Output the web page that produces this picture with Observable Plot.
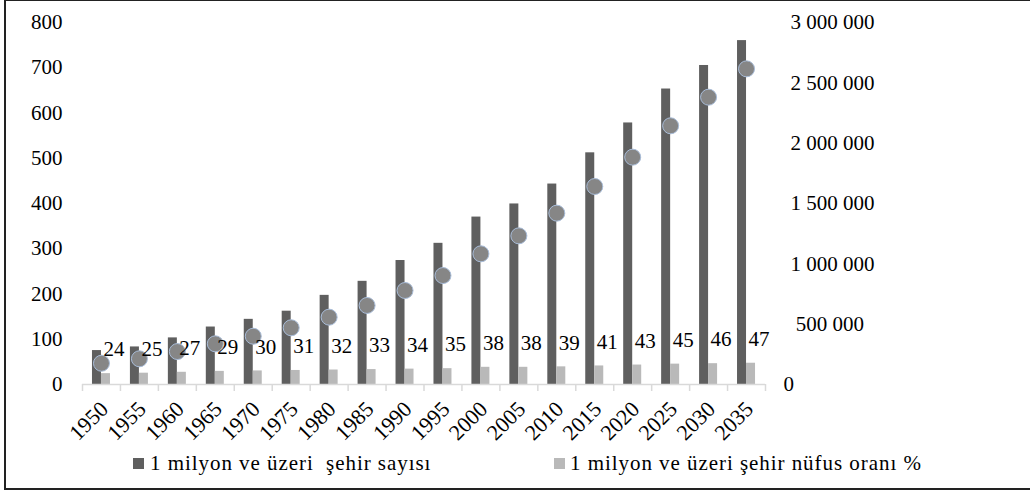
<!DOCTYPE html>
<html>
<head>
<meta charset="utf-8">
<script src="https://cdn.jsdelivr.net/npm/d3@7"></script>
<script src="https://cdn.jsdelivr.net/npm/@observablehq/plot@0.6"></script>
<style>
  html, body { margin: 0; padding: 0; background: #fff; }
  #wrap { position: relative; width: 1030px; height: 494px; overflow: hidden; font-family: "Liberation Serif", serif; }
  #wrap svg { position: absolute; left: 0; top: 0; }
  #frame { position: absolute; left: 4px; top: -1px; width: 1040px; height: 491px; border: 2px solid #222; box-sizing: border-box; }
  .lg-sw { position: absolute; width: 11px; height: 11px; top: 458px; }
  .lg-tx { position: absolute; top: 451px; font-size: 21px; line-height: 24px; letter-spacing: 0.95px; color: #000; white-space: pre; }
</style>
</head>
<body>
<div id="wrap">
  <div id="frame"></div>
</div>
<script>
// ---- data ----
const years = ["1950","1955","1960","1965","1970","1975","1980","1985","1990","1995","2000","2005","2010","2015","2020","2025","2030","2035"];
const cities = [75, 83, 103, 127, 144, 162, 197, 228, 274, 312, 370, 399, 443, 512, 578, 653, 705, 760];
const pct = [24, 25, 27, 29, 30, 31, 32, 33, 34, 35, 38, 38, 39, 41, 43, 45, 46, 47];
const pop = [176000, 213000, 273000, 337000, 400000, 470000, 558000, 655000, 779000, 903000, 1083000, 1232000, 1420000, 1641000, 1884000, 2144000, 2381000, 2616000];
const leftTicks = [0, 100, 200, 300, 400, 500, 600, 700, 800];
const rightTicks = [0, 500000, 1000000, 1500000, 2000000, 2500000, 3000000];
const legendLabels = ["1 milyon ve üzeri  şehir sayısı", "1 milyon ve üzeri şehir nüfus oranı %"];

const rows = years.map((y, i) => ({year: y, cities: cities[i], pct: pct[i], pop: pop[i]}));

// ---- layout ----
const W = 1030, H = 450;
const mL = 82, mR = W - 765, mT = 22, mB = H - 384;
const step = (W - mL - mR) / years.length;
const barW = 9;
const FS = 21;
const DARK = "#5f5f5f", LIGHT = "#b9b9b9";
const style = {fontFamily: "'Liberation Serif', serif", fontSize: FS + "px", color: "#000", background: "transparent", overflow: "visible"};
const xScale = {type: "band", domain: years, padding: 0, round: false};

const fmtBig = v => v === 500000 ? "\u00a0" + d3.format(",")(v).replace(/,/g, " ") : d3.format(",")(v).replace(/,/g, " ");

// Layer A: bars, x axis, left axis
const A = Plot.plot({
  width: W, height: H, marginLeft: mL, marginRight: mR, marginTop: mT, marginBottom: mB,
  style,
  x: xScale,
  y: {domain: [0, 800]},
  marks: [
    Plot.barY(rows, {x: "year", y: "cities", fill: DARK, insetLeft: step / 2 - barW, insetRight: step / 2}),
    Plot.barY(rows, {x: "year", y: "pct", fill: LIGHT, insetLeft: step / 2, insetRight: step / 2 - barW}),
    Plot.ruleY([0], {stroke: "#d9d9d9", strokeWidth: 1.5}),
    Plot.axisX({ticks: years, tickSize: 7, tickFormat: () => "", label: null, dx: -step / 2, stroke: "#d9d9d9", strokeWidth: 1.5}),
    Plot.axisX({ticks: [years[years.length - 1]], tickSize: 7, tickFormat: () => "", label: null, dx: step / 2, stroke: "#d9d9d9", strokeWidth: 1.5}),
    Plot.axisX({ticks: years, tickSize: 0, tickRotate: -45, tickPadding: 21, dx: 3, label: null, fill: "#000", fontSize: 22}),
    Plot.axisY({ticks: leftTicks, tickSize: 0, tickPadding: 20, label: null, fill: "#000", fontSize: FS})
  ]
});

// Layer B: dots + right axis
const B = Plot.plot({
  width: W, height: H, marginLeft: mL, marginRight: mR, marginTop: mT, marginBottom: mB,
  style,
  x: {...xScale, axis: null},
  y: {domain: [0, 3000000], axis: null},
  marks: [
    Plot.dot(rows, {x: "year", y: "pop", r: 8, fill: "#868686", stroke: "#a8bcd8", strokeWidth: 1}),
    Plot.axisY({anchor: "right", ticks: rightTicks.slice(1), tickSize: 0, tickPadding: 25, tickFormat: fmtBig, label: null, fill: "#000", fontSize: FS}),
    Plot.axisY({anchor: "right", ticks: [0], tickSize: 0, tickPadding: 18, tickFormat: fmtBig, label: null, fill: "#000", fontSize: FS})
  ]
});

// Layer C: data labels
const C = Plot.plot({
  width: W, height: H, marginLeft: mL, marginRight: mR, marginTop: mT, marginBottom: mB,
  style,
  x: {...xScale, axis: null},
  y: {domain: [0, 800], axis: null},
  marks: [
    Plot.text(rows, {x: "year", y: "pct", text: d => String(d.pct), dx: 2, dy: -24, textAnchor: "start", fill: "#000", fontSize: FS})
  ]
});

const wrap = document.getElementById("wrap");
wrap.appendChild(A);
wrap.appendChild(B);
wrap.appendChild(C);

// Legend
const legendItems = [
  {label: legendLabels[0], color: DARK, sw: 133, tx: 150},
  {label: legendLabels[1], color: LIGHT, sw: 554, tx: 570}
];
for (const it of legendItems) {
  const s = document.createElement("div");
  s.className = "lg-sw"; s.style.left = it.sw + "px"; s.style.background = it.color;
  const t = document.createElement("div");
  t.className = "lg-tx"; t.style.left = it.tx + "px"; t.textContent = it.label;
  wrap.appendChild(s); wrap.appendChild(t);
}
</script>
</body>
</html>
